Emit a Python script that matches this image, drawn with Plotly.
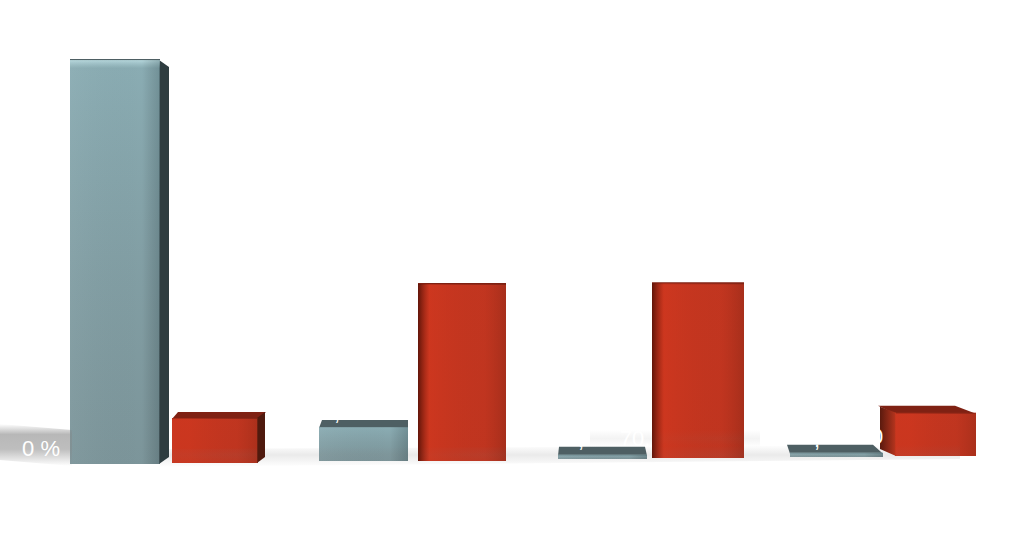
import plotly.graph_objects as go

# Values (percent)
categories = ["A", "B", "C", "D"]
teal_values = [87.8, 7.4, 0.9, 0.9]
red_values = [9.8, 38.5, 38.0, 9.4]
label_texts = ["0 %", ",", ",", "70.", ",", "0"]

# Presentation geometry
W, H = 1024, 541
PX_PER_PCT = 4.6
TEAL_X = [(70, 160), (319, 408), (558, 647), (790, 883)]
TEAL_BOTTOM = [464, 461, 459, 457]
# top face: back-left shift, back-right shift, rise
TEAL_TOPF = [(0, 0, 1), (3, 0, 7), (1, -2, 8), (-3, -10, 8)]
# side face: dx, offset of outer top, offset of outer bottom
TEAL_SIDE = [(10, 7, -7), None, None, None]
RED_X = [(172, 258), (418, 506), (652, 744), (895, 976)]
RED_BOTTOM = [463, 461, 458, 456]
RED_TOPF = [(6, 8, 6), (0, 0, 1), (0, 0, 1), (-17, -21, 7)]
RED_SIDE = [(8, -6, -6), None, None, (-16, -6, -7)]
LABEL_POS = [(41, 450), (337, 414), (581, 441), (635, 440), (817, 441), (877, 438)]

def py(p):
    return H - p

TEAL = dict(front="#7f9a9f", side="#2f3d40", top="#4e5f63", sidefade="#7f9a9f",
            v=[[0, "rgba(120,142,147,0.4)"], [0.98, "rgba(145,184,192,0.6)"], [1, "rgba(190,225,230,0.85)"]],
            h=[[0, "rgba(255,255,255,0.04)"], [0.8, "rgba(0,0,0,0.0)"], [1, "rgba(0,20,25,0.18)"]])
RED = dict(front="#c43620", side="#4f1a0e", top="#7f2113", sidefade="#b8351e",
           v=[[0, "rgba(190,50,30,0.1)"], [1, "rgba(215,60,35,0.1)"]],
           h=[[0, "rgba(210,55,30,0.45)"], [0.2, "rgba(210,55,30,0.45)"], [0.75, "rgba(175,50,30,0.25)"], [1, "rgba(130,38,20,0.4)"]])
RED3_H = [[0, "rgba(80,15,5,0.85)"], [0.13, "rgba(210,55,30,0.6)"], [0.75, "rgba(180,50,30,0.25)"], [1, "rgba(120,35,20,0.4)"]]

fig = go.Figure()

def poly(xs, ys, color=None, gradient=None):
    kw = dict(x=xs, y=[py(v) for v in ys], mode="lines", fill="toself",
              line=dict(width=0), hoverinfo="skip", showlegend=False)
    if gradient:
        kw["fillgradient"] = gradient
        kw["fillcolor"] = "rgba(0,0,0,0)"
    else:
        kw["fillcolor"] = color
    fig.add_trace(go.Scatter(**kw))

def bar3d(name, value, xs, bottom, topf, side, st, hgrad=None):
    x0, x1 = xs
    h = value * PX_PER_PCT
    top = bottom - h
    a, b, rise = topf
    poly([x0, x0 + a, x1 + b, x1, x0], [top + 1, top - rise, top - rise, top + 1, top + 1], st["top"])
    if side:
        dx, t_off, b_off = side
        edge = x1 - 1 if dx > 0 else x0 + 1
        xs_side = [edge, edge + dx, edge + dx, edge, edge]
        ys_side = [top, top + t_off, bottom + b_off, bottom, top]
        if dx > 0:
            poly(xs_side, ys_side, st["side"])
        else:
            poly(xs_side, ys_side, gradient=dict(type="horizontal",
                 colorscale=[[0, "#5a1a0e"], [1, st["sidefade"]]]))
    fig.add_trace(go.Bar(x=[(x0 + x1) / 2], y=[h], base=[py(bottom)], width=[x1 - x0],
                         marker=dict(color=st["front"], line=dict(width=0)),
                         name=name, showlegend=False, hoverinfo="skip"))
    rx = [x0, x1, x1, x0, x0]
    ry = [top, top, bottom, bottom, top]
    poly(rx, ry, gradient=dict(type="vertical", colorscale=st["v"]))
    poly(rx, ry, gradient=dict(type="horizontal", colorscale=hgrad or st["h"]))

# floor shadows
grey = lambda a: f"rgba(125,125,125,{a})"
poly([0, 72, 72, 0, 0], [424, 430, 466, 460, 424],
     gradient=dict(type="vertical", colorscale=[[0, grey(0.0)], [0.4, grey(0.5)], [0.75, grey(0.55)], [1, grey(0.0)]]))
poly([160, 960, 960, 160, 160], [449, 445, 459, 467, 449],
     gradient=dict(type="vertical", colorscale=[[0, grey(0.0)], [0.55, grey(0.16)], [1, grey(0.0)]]))
poly([590, 760, 760, 590, 590], [430, 430, 447, 447, 430],
     gradient=dict(type="vertical", colorscale=[[0, grey(0.0)], [0.5, grey(0.09)], [1, grey(0.0)]]))

for i in range(4):
    bar3d(categories[i] + " teal", teal_values[i], TEAL_X[i], TEAL_BOTTOM[i], TEAL_TOPF[i], TEAL_SIDE[i], TEAL)

for i in range(4):
    bar3d(categories[i] + " red", red_values[i], RED_X[i], RED_BOTTOM[i], RED_TOPF[i], RED_SIDE[i], RED,
          hgrad=RED3_H if i in (1, 2) else None)

fig.add_trace(go.Scatter(x=[p[0] for p in LABEL_POS], y=[py(p[1]) for p in LABEL_POS],
                         text=label_texts, mode="text", showlegend=False, hoverinfo="skip",
                         textfont=dict(family="Liberation Sans", size=22, color="white")))

fig.update_layout(width=W, height=H, margin=dict(l=0, r=0, t=0, b=0), autosize=False,
                  paper_bgcolor="white", plot_bgcolor="white", barmode="overlay", showlegend=False,
                  xaxis=dict(range=[0, W], visible=False, fixedrange=True),
                  yaxis=dict(range=[0, H], visible=False, fixedrange=True))
fig.write_html("out.html", config=dict(displayModeBar=False),
               post_script="document.body.style.margin='0';document.documentElement.style.overflow='hidden';")
